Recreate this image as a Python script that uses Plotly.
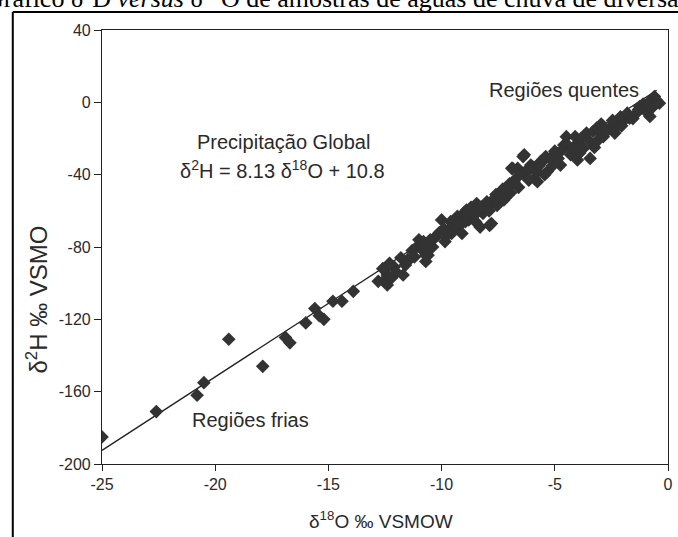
import plotly.graph_objects as go

# --- data ---
d18O = [-25.0, -22.6, -20.8, -20.5, -19.4, -17.9, -16.9, -16.7, -16.0, -15.6, -15.4, -15.2,
        -14.8, -14.4, -13.9,
        -12.5, -12.4, -12.6, -12.3, -12.1, -12.4, -11.7, -11.5, -11.2, -11.0, -10.7, -10.6,
        -10.4, -10.3, -10.0, -9.85, -9.56, -9.27, -9.1, -8.9, -8.8, -8.5, -8.3, -8.17, -7.95,
        -7.88, -7.67, -7.5, -7.2, -7.08, -6.8, -6.64, -6.35, -6.06, -5.77, -5.55, -6.9,
        -12.3, -11.45, -10.7, -10.58, -10.2, -9.7, -9.4, -9.1, -8.68, -8.4, -8.1, -7.8, -7.74,
        -7.37, -6.86, -6.4, -6.35, -6.06, -5.9, -5.77, -5.63, -5.33, -5.2, -4.9, -4.75, -4.6,
        -4.49, -4.3, -4.0, -4.0, -3.73, -3.6, -3.44, -3.15, -3.15, -2.86, -2.57, -2.27, -1.99,
        -1.7, -1.4, -1.25, -0.97, -0.82, -0.6, -0.38, -0.8,
        -11.8, -11.3, -11.1, -10.9, -10.8, -10.5, -10.1, -9.9, -9.8, -9.6, -9.3, -9.2, -9.0,
        -8.95, -8.7, -8.6, -8.45, -8.25, -8.0, -7.9, -7.6, -7.55, -7.3, -7.25, -7.0, -6.95,
        -6.7, -6.6, -6.5, -6.2, -6.15, -5.95, -5.7, -5.45, -5.4, -5.1, -5.0, -4.85, -4.65,
        -4.4, -4.2, -4.1, -3.85, -3.9, -3.5, -3.3, -3.25, -3.0, -2.95, -2.7, -2.45, -2.35,
        -2.1, -2.05, -1.8, -1.55, -1.3, -1.1, -0.9, -0.7, -0.5, -12.8, -12.0, -11.6, -12.2]
d2H = [-185, -171, -162, -155, -131, -146, -130, -133, -122, -114, -118, -120,
       -110, -110, -104.5,
       -98, -95.5, -92, -89, -91, -101, -95.5, -87, -85.5, -76, -88, -84.5,
       -80, -75, -65, -77, -72.5, -69, -72.5, -59.6, -65, -66, -69, -61.4, -57.7,
       -68, -55, -51.3, -53, -47.6, -44, -36.5, -29, -34.7, -38.3, -32.8, -36.5,
       -90, -87.3, -84.5, -80.8, -73.5, -70.7, -68, -64.2, -62.4, -60.5, -57.7, -67, -54,
       -50.4, -36.5, -30, -40.2, -36.5, -42, -43.9, -32.8, -38.3, -31, -28.2, -34.7, -23.6,
       -19, -29, -22.6, -31.9, -25.4, -17, -31, -14.3, -21.7, -19, -14.3, -13.4, -10.6,
       -8.8, -6, -2.3, -5, 0.5, 3.2, -0.5, -7.8,
       -86, -82, -80, -81, -77, -76, -72, -70, -74, -66, -63, -67, -61,
       -66, -58, -63, -56, -58, -55, -60, -51, -57, -48, -54, -45, -50,
       -42, -47, -39, -37, -43, -36, -35, -40, -30, -35, -27, -31, -26,
       -24, -26, -19, -20, -28, -21, -16, -25, -17, -12, -16, -10, -17,
       -8, -13, -6, -9, -4, -1, -2, -3, 1, -99, -94, -90, -97]

# regression line  d2H = 8.13 d18O + 10.8 (end points)
line_x = [-25.0, -0.5]
line_y = [-192.45, 6.7]

x_ticks = [-25, -20, -15, -10, -5, 0]
y_ticks = [40, 0, -40, -80, -120, -160, -200]

SANS = "Liberation Sans, Arial, sans-serif"
SERIF = "Liberation Serif, Times New Roman, serif"
INK = "#2a2a2a"

# plot area in pixels (for placing free text)
L, R, T, B = 102, 673, 30, 464
W, H = 678, 537


def px(xp):
    return (xp - L) / (R - L)


def py(yp):
    return (B - yp) / (B - T)


fig = go.Figure()
fig.add_trace(go.Scatter(x=line_x, y=line_y, mode="lines",
                         line=dict(color="#222", width=1.3), hoverinfo="skip"))
fig.add_trace(go.Scatter(x=d18O, y=d2H, mode="markers",
                         marker=dict(symbol="diamond", size=10.5, color="#333333",
                                     line=dict(width=0))))

fig.update_layout(
    width=W, height=H,
    margin=dict(l=L, r=W - R, t=T, b=H - B),
    paper_bgcolor="white", plot_bgcolor="white",
    showlegend=False,
    font=dict(family=SANS, color=INK),
)
fig.update_xaxes(range=[-25, 0], tickvals=x_ticks, ticktext=[str(v) for v in x_ticks],
                 showgrid=False, zeroline=False, showline=True, linecolor="#222",
                 linewidth=1.2, mirror=True, ticks="outside", ticklen=6, tickcolor="#222",
                 tickfont=dict(size=16, family=SANS, color=INK))
fig.update_yaxes(range=[-200, 40], tickvals=y_ticks, ticktext=[str(v) for v in y_ticks],
                 showgrid=False, zeroline=False, showline=True, linecolor="#222",
                 linewidth=1.2, mirror=True, ticks="outside", ticklen=7, tickcolor="#222",
                 tickfont=dict(size=16, family=SANS, color=INK))

txt = dict(size=20, family=SANS, color=INK)
ann = [
    dict(text="Regiões quentes", x=px(568), y=py(90)),
    dict(text="Precipitação Global", x=px(285), y=py(142)),
    dict(text="δ<sup>2</sup>H = 8.13 δ<sup>18</sup>O + 10.8", x=px(284), y=py(169)),
    dict(text="Regiões frias", x=px(252), y=py(420)),
    dict(text="δ<sup>18</sup>O ‰ VSMOW", x=px(383), y=py(520),
         font=dict(size=19, family=SANS, color=INK)),
    dict(text="δ<sup>2</sup>H ‰ VSMO", x=px(36), y=py(300), textangle=-90,
         font=dict(size=24, family=SANS, color=INK)),
]
for a in ann:
    a.update(xref="paper", yref="paper", xanchor="center", yanchor="middle",
             showarrow=False)
    a.setdefault("font", txt)
ann.append(dict(
    text="Gráfico δ<sup>2</sup>D <i>versus</i> δ<sup>18</sup>O de amostras de águas de chuva de diversas regiões",
    x=px(-18), y=py(-3.5), xref="paper", yref="paper", xanchor="left", yanchor="middle",
    showarrow=False, font=dict(size=26, family=SERIF, color="#000")))
fig.update_layout(annotations=ann)

fig.add_shape(type="line", xref="paper", yref="paper", x0=px(12), x1=px(690), y0=py(12), y1=py(12),
              line=dict(color="#000", width=2))
fig.add_shape(type="line", xref="paper", yref="paper", x0=px(12), x1=px(12), y0=py(12), y1=py(545),
              line=dict(color="#000", width=2))

fig.write_html("out.html")
